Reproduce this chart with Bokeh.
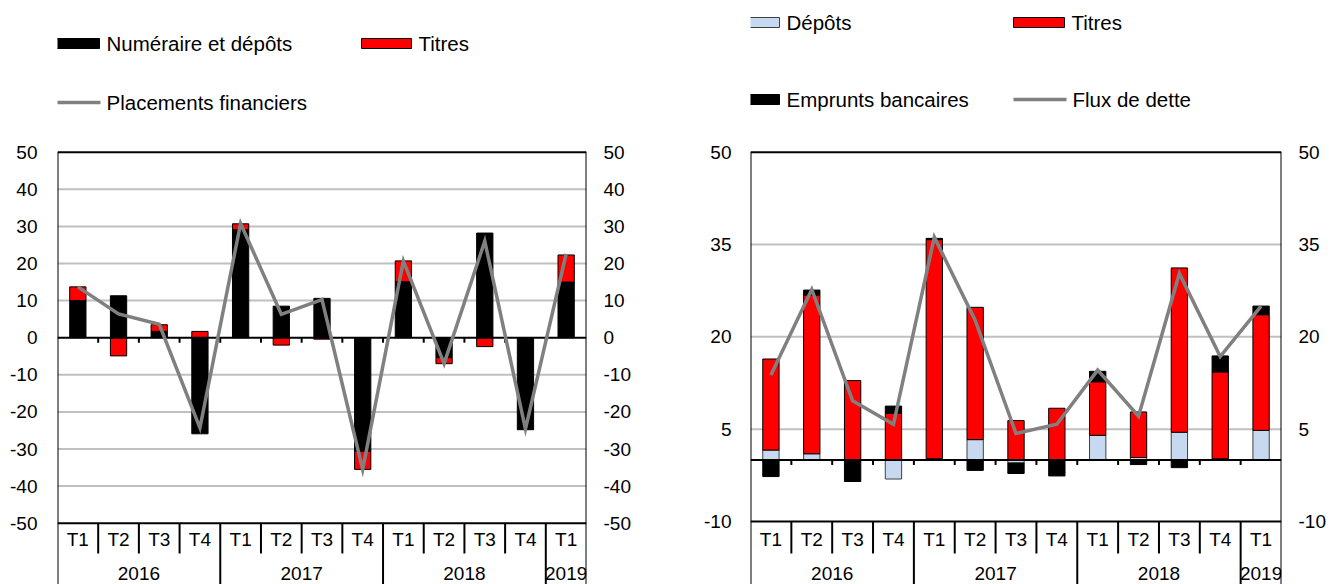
import numpy as np
from bokeh.plotting import figure
from bokeh.models import Range1d, LinearAxis, FixedTicker
from bokeh.layouts import row
from bokeh.core.properties import value
from bokeh.embed import file_html
from bokeh.resources import INLINE

# ---------------- data ----------------
quarters = ["T1", "T2", "T3", "T4", "T1", "T2", "T3", "T4", "T1", "T2", "T3", "T4", "T1"]
years = ["2016", "2017", "2018", "2019"]
year_sizes = [4, 4, 4, 1]

# left chart
numeraire = [10.0, 11.3, 1.7, -25.9, 29.1, 8.5, 10.6, -30.6, 15.1, -5.4, 28.2, -24.6, 15.0]
titres_l = [3.7, -4.9, 1.8, 1.7, 1.6, -2.0, -0.4, -4.9, 5.6, -1.6, -2.4, -0.2, 7.3]
placements = [13.7, 6.4, 3.6, -24.3, 30.8, 6.3, 10.3, -35.5, 20.7, -7.0, 26.0, -24.6, 22.6]
left_ticks = [-50, -40, -30, -20, -10, 0, 10, 20, 30, 40, 50]

# right chart
depots = [1.6, 1.0, -0.2, -3.1, 0.2, 3.3, -0.5, 0.0, 4.0, 0.4, 4.5, 0.2, 4.8]
titres_r = [14.8, 25.8, 12.9, 7.6, 35.6, 21.5, 6.4, 8.4, 8.7, 7.4, 26.7, 14.1, 18.8]
emprunts = [-2.7, 0.8, -3.3, 1.15, 0.2, -1.7, -1.7, -2.6, 1.7, -0.75, -1.25, 2.6, 1.4]
flux = [13.8, 27.7, 9.6, 5.8, 36.2, 22.7, 4.3, 5.8, 14.6, 7.1, 30.3, 16.8, 25.0]
right_ticks = [-10, 5, 20, 35, 50]

# ---------------- styles ----------------
FONT = "Liberation Sans"
AX_SIZE = "19px"
LEG_SIZE = "20.5px"
RED = "#FF0000"
BLACK = "#000000"
BLUE = "#C6D9F1"
GRAY = "#808080"
GRID = "#C0C0C0"
N = len(quarters)
FIG_TOP = 0
FIG_H = 584


def stack(series_list):
    pos = np.zeros(N)
    neg = np.zeros(N)
    out = []
    for s in series_list:
        s = np.asarray(s, dtype=float)
        bottom = np.where(s >= 0, pos, neg)
        top = bottom + s
        pos = np.where(s >= 0, top, pos)
        neg = np.where(s < 0, top, neg)
        out.append((bottom, top))
    return out


def make_panel(page_left, b_left, frame_w, b_right, ticks, box_px_top, box_px_bot,
               left_standoff, right_standoff):
    v_top, v_bot = max(ticks), min(ticks)
    scale = (box_px_bot - box_px_top) / (v_top - v_bot)
    y_top = v_top + (box_px_top - FIG_TOP) / scale
    y_bot = y_top - FIG_H / scale
    frame_left = page_left + b_left

    def X(px):
        return (px - frame_left) / frame_w * N

    def Y(py):
        return y_top - (py - FIG_TOP) / scale

    p = figure(width=b_left + frame_w + b_right, height=FIG_H,
               x_range=Range1d(0, N), y_range=Range1d(y_bot, y_top),
               x_axis_location=None, y_axis_location=None,
               output_backend="svg", toolbar_location=None,
               min_border_left=b_left, min_border_right=b_right,
               min_border_top=0, min_border_bottom=0)
    p.outline_line_color = None
    p.background_fill_color = "white"
    p.border_fill_color = "white"
    p.grid.visible = False

    overrides = {t: str(t) for t in ticks}
    for side, so in (("left", left_standoff), ("right", right_standoff)):
        ax = LinearAxis(ticker=FixedTicker(ticks=ticks))
        ax.axis_line_color = None
        ax.major_tick_line_color = None
        ax.minor_tick_line_color = None
        ax.major_tick_in = 0
        ax.major_tick_out = 0
        ax.major_label_standoff = so
        ax.major_label_text_font = FONT
        ax.major_label_text_font_size = AX_SIZE
        ax.major_label_text_color = BLACK
        ax.major_label_overrides = overrides
        p.add_layout(ax, side)

    # gridlines
    grid_vals = [t for t in ticks if t not in (v_top, v_bot, 0)]
    p.segment(x0=[0] * len(grid_vals), x1=[N] * len(grid_vals), y0=grid_vals, y1=grid_vals,
              line_color=GRID, line_width=2)
    return p, X, Y, v_top, v_bot, y_bot


def finish_panel(p, X, Y, v_top, v_bot, y_bot, series_line):
    centers = np.arange(N) + 0.5
    # zero line
    p.segment(x0=[0], x1=[N], y0=[0], y1=[0], line_color=BLACK, line_width=2)
    # small ticks below zero line at category boundaries
    tick_len = Y(100) - Y(105)
    b = np.arange(1, N)
    p.segment(x0=b, x1=b, y0=[0] * len(b), y1=[-tick_len] * len(b),
              line_color=BLACK, line_width=2)
    # series line
    p.line(centers, series_line, line_color=GRAY, line_width=3.5, line_join="miter")
    # frame box
    p.segment(x0=[0, 0, 0, N], x1=[N, N, 0, N], y0=[v_top, v_bot, v_top, v_top],
              y1=[v_top, v_bot, y_bot, y_bot], line_color=BLACK, line_width=2)
    # category separators
    year_bounds = list(np.cumsum(year_sizes)[:-1])
    q_bounds = [i for i in range(1, N) if i not in year_bounds]
    q_end = Y(553)
    p.segment(x0=q_bounds, x1=q_bounds, y0=[v_bot] * len(q_bounds), y1=[q_end] * len(q_bounds),
              line_color=BLACK, line_width=2)
    p.segment(x0=year_bounds, x1=year_bounds, y0=[v_bot] * len(year_bounds),
              y1=[y_bot] * len(year_bounds), line_color=BLACK, line_width=2)
    # quarter labels
    p.text(x=centers, y=[Y(539)] * N, text=quarters, text_font=value(FONT),
           text_font_size=value(AX_SIZE), text_align="center", text_baseline="middle",
           text_color=BLACK)
    # year labels
    starts = np.concatenate([[0], np.cumsum(year_sizes)[:-1]])
    ycent = starts + np.array(year_sizes) / 2.0
    p.text(x=ycent, y=[Y(573)] * len(years), text=years, text_font=value(FONT),
           text_font_size=value(AX_SIZE), text_align="center", text_baseline="middle",
           text_color=BLACK)


def legend_box(p, X, Y, x0, x1, yc, fill, line, label):
    p.quad(left=[X(x0)], right=[X(x1)], top=[Y(yc - 5)], bottom=[Y(yc + 5)],
           fill_color=fill, line_color=line, line_width=1)
    p.text(x=[X(x1 + 7)], y=[Y(yc)], text=[label], text_font=value(FONT),
           text_font_size=value(LEG_SIZE), text_align="left", text_baseline="middle",
           text_color=BLACK)


def legend_line(p, X, Y, x0, x1, yc, color, label):
    p.line([X(x0), X(x1)], [Y(yc), Y(yc)], line_color=color, line_width=3.5)
    p.text(x=[X(x1 + 6)], y=[Y(yc)], text=[label], text_font=value(FONT),
           text_font_size=value(LEG_SIZE), text_align="left", text_baseline="middle",
           text_color=BLACK)


centers = np.arange(N) + 0.5
BAR_W = 0.4

# ---------------- left chart ----------------
pL, XL, YL, vtL, vbL, ybL = make_panel(0, 57, 529, 82, left_ticks, 151.7, 522.7, 20, 17)
(nb, nt), (tb, tt) = stack([numeraire, titres_l])
pL.vbar(x=centers, width=BAR_W, bottom=nb, top=nt, fill_color=BLACK, line_color=BLACK, line_width=1)
pL.vbar(x=centers, width=BAR_W, bottom=tb, top=tt, fill_color=RED, line_color=BLACK, line_width=1)
finish_panel(pL, XL, YL, vtL, vbL, ybL, placements)
legend_box(pL, XL, YL, 49, 99, 43, BLACK, BLACK, "Numéraire et dépôts")
legend_box(pL, XL, YL, 361, 411, 43, RED, BLACK, "Titres")
legend_line(pL, XL, YL, 49, 100, 102, GRAY, "Placements financiers")

# ---------------- right chart ----------------
pR, XR, YR, vtR, vbR, ybR = make_panel(668, 82, 531, 50, right_ticks, 151.7, 521.0, 19, 17)
(db, dt), (rb, rt), (eb, et) = stack([depots, titres_r, emprunts])
pR.vbar(x=centers, width=BAR_W, bottom=db, top=dt, fill_color=BLUE, line_color="#404040", line_width=1)
pR.vbar(x=centers, width=BAR_W, bottom=rb, top=rt, fill_color=RED, line_color=BLACK, line_width=1)
pR.vbar(x=centers, width=BAR_W, bottom=eb, top=et, fill_color=BLACK, line_color=BLACK, line_width=1)
finish_panel(pR, XR, YR, vtR, vbR, ybR, flux)
legend_box(pR, XR, YR, 729, 779, 22, BLUE, "#404040", "Dépôts")
legend_box(pR, XR, YR, 1013, 1064, 22, RED, BLACK, "Titres")
legend_box(pR, XR, YR, 729, 779, 99, BLACK, BLACK, "Emprunts bancaires")
legend_line(pR, XR, YR, 1013, 1066, 99, GRAY, "Flux de dette")

layout = row(pL, pR)
open("out.html", "w").write(file_html(layout, INLINE))
